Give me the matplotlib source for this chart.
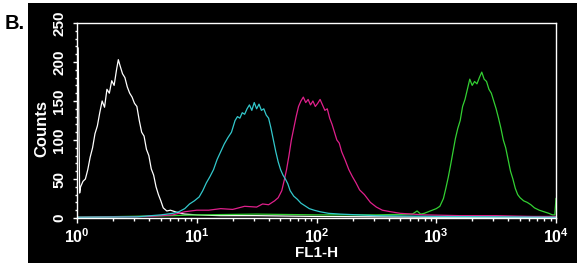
import matplotlib
matplotlib.use("Agg")
import matplotlib.pyplot as plt
import numpy as np
from matplotlib.ticker import LogLocator, FixedLocator, MultipleLocator, LogFormatterMathtext
from matplotlib.patches import Rectangle

plt.rcParams['font.family'] = ['Liberation Sans', 'DejaVu Sans']
plt.rcParams['mathtext.fontset'] = 'custom'
plt.rcParams['mathtext.rm'] = 'Liberation Sans:bold'
plt.rcParams['mathtext.it'] = 'Liberation Sans:bold'
plt.rcParams['mathtext.bf'] = 'Liberation Sans:bold'

# ---- data (x in decades of FL1-H, y in counts) ----
white_dec = [0.01, 0.016, 0.022, 0.03, 0.05, 0.07, 0.09, 0.11, 0.13, 0.15, 0.17, 0.19, 0.21, 0.23,
             0.25, 0.27, 0.29, 0.31, 0.33, 0.345, 0.36, 0.38, 0.40, 0.42, 0.44, 0.46, 0.48, 0.50,
             0.52, 0.54, 0.56, 0.58, 0.60, 0.62, 0.64, 0.66, 0.68, 0.70, 0.72, 0.75, 0.78, 0.82,
             0.86, 0.90, 1.0, 1.2, 1.5, 2.0, 2.5, 3.0, 3.5, 4.0]
white_cnt = [218, 122, 32, 40, 47, 50, 62, 78, 90, 108, 118, 135, 150, 142,
             165, 160, 176, 170, 190, 203, 195, 185, 180, 168, 160, 155, 147, 143,
             125, 110, 105, 88, 80, 63, 55, 40, 30, 22, 13, 9, 10, 8,
             6, 5, 4, 3, 3, 2, 1.5, 1, 1, 1]

cyan_dec = [0, 0.5, 0.7, 0.8, 0.85, 0.9, 0.94, 0.98, 1.02, 1.05, 1.08, 1.11, 1.14, 1.17, 1.20,
            1.23, 1.26, 1.29, 1.32, 1.34, 1.36, 1.38, 1.40, 1.42, 1.44, 1.46, 1.48, 1.50, 1.52,
            1.54, 1.56, 1.58, 1.60, 1.62, 1.64, 1.66, 1.68, 1.70, 1.72, 1.74, 1.76, 1.78, 1.81,
            1.84, 1.87, 1.90, 1.94, 1.98, 2.03, 2.1, 2.2, 2.35, 2.5, 3.0, 3.5, 4.0]
cyan_cnt = [1, 1.5, 4, 6, 8, 12, 18, 22, 27, 35, 45, 53, 62, 75, 85,
            95, 103, 110, 125, 130, 128, 135, 133, 140, 145, 138, 148, 140, 146,
            138, 140, 132, 128, 115, 100, 85, 72, 62, 55, 50, 44, 35, 28,
            24, 19, 16, 12, 10, 8, 6, 5, 4, 3, 2, 1.5, 1]

magenta_dec = [0, 0.6, 0.8, 0.9, 1.0, 1.1, 1.2, 1.3, 1.4, 1.5, 1.55, 1.6, 1.65, 1.68, 1.71, 1.73,
               1.75, 1.77, 1.79, 1.81, 1.83, 1.85, 1.87, 1.89, 1.91, 1.93, 1.95, 1.97, 1.99, 2.01,
               2.03, 2.05, 2.07, 2.09, 2.11, 2.13, 2.15, 2.17, 2.19, 2.21, 2.24, 2.27, 2.30, 2.33,
               2.36, 2.40, 2.45, 2.50, 2.55, 2.62, 2.7, 2.8, 2.9, 3.2, 3.5, 3.8, 4.0]
magenta_cnt = [1, 2, 4, 8, 10, 10, 12, 11, 15, 14, 18, 17, 22, 26, 35, 48,
               62, 80, 100, 115, 130, 143, 150, 155, 148, 152, 145, 150, 143, 147,
               152, 145, 138, 140, 128, 120, 110, 100, 96, 85, 74, 62, 53, 45,
               36, 30, 20, 14, 10, 8, 6, 5, 4, 3, 3, 2, 2]

green_dec = [0, 0.8, 1.0, 1.5, 2.0, 2.5, 2.8, 2.84, 2.87, 2.90, 2.95, 3.0, 3.03, 3.06, 3.08, 3.10,
             3.12, 3.14, 3.16, 3.18, 3.20, 3.22, 3.24, 3.26, 3.28, 3.30, 3.32, 3.34, 3.36, 3.38,
             3.40, 3.42, 3.44, 3.46, 3.48, 3.50, 3.52, 3.54, 3.56, 3.58, 3.60, 3.62, 3.64, 3.66,
             3.68, 3.70, 3.73, 3.76, 3.79, 3.82, 3.86, 3.90, 3.94, 3.97, 3.99, 4.0]
green_cnt = [1, 3, 4, 5, 4, 4, 5, 9, 5, 6, 9, 12, 15, 25, 38, 52,
             68, 85, 102, 115, 125, 143, 152, 165, 178, 170, 175, 172, 180, 187,
             178, 175, 165, 160, 150, 140, 128, 115, 100, 90, 75, 60, 50, 38,
             30, 26, 22, 20, 17, 13, 10, 8, 6, 4, 4, 25]

series = [
    (white_dec, white_cnt, '#ffffff'),
    (green_dec, green_cnt, '#33d033'),
    (magenta_dec, magenta_cnt, '#e0208c'),
    (cyan_dec, cyan_cnt, '#33c8cc'),
]

yticks = [0, 50, 100, 150, 200, 250]
xticks = [1, 10, 100, 1000, 10000]

W, H = 577, 266
fig = plt.figure(figsize=(W / 100, H / 100), dpi=100, facecolor='white')
bg = Rectangle((28 / W, 3 / H), (W - 28) / W, (263 - 3) / H,
               transform=fig.transFigure, facecolor='black', edgecolor='none', zorder=-10)
fig.add_artist(bg)

ax = fig.add_axes([77 / W, (H - 218) / H, (556 - 77) / W, (218 - 23) / H])
ax.set_zorder(1)
ax.set_facecolor('black')

for d, c, col in series:
    ax.plot(10 ** np.array(d), c, color=col, lw=0.9)

ax.set_xscale('log')
ax.set_xlim(1, 10000)
ax.set_ylim(0, 250)

for s in ax.spines.values():
    s.set_color('white')
    s.set_linewidth(1.0)

ax.xaxis.set_major_locator(FixedLocator(xticks))
ax.xaxis.set_major_formatter(LogFormatterMathtext())
ax.xaxis.set_minor_locator(LogLocator(base=10, subs=np.arange(2, 10), numticks=20))
ax.yaxis.set_major_locator(FixedLocator(yticks))
ax.yaxis.set_minor_locator(MultipleLocator(10))

ax.tick_params(axis='x', which='major', colors='white', length=3.6, width=1, pad=3,
               labelsize=11.5, direction='out')
ax.tick_params(axis='x', which='minor', colors='white', length=2.2, width=1, direction='out')
ax.tick_params(axis='y', which='major', colors='white', length=2.9, width=1, pad=5,
               labelsize=11, direction='out')
ax.tick_params(axis='y', which='minor', colors='white', length=1.8, width=1, direction='out')
for lab in ax.get_xticklabels():
    lab.set_fontweight('bold')
for lab in ax.get_yticklabels():
    lab.set_fontweight('bold')
    lab.set_rotation(90)
    lab.set_va('center')

ax.set_xlabel('FL1-H', color='white', fontsize=11, fontweight='bold', labelpad=0)
ax.set_ylabel('Counts', color='white', fontsize=12, fontweight='bold')
ax.yaxis.set_label_coords(-0.058, 0.46)

fig.text(14.5 / W, 1 - 23.5 / H, 'B.', color='black', fontsize=14.5, fontweight='bold',
         ha='center', va='center')

fig.savefig('out.png', dpi=100, facecolor='white')
